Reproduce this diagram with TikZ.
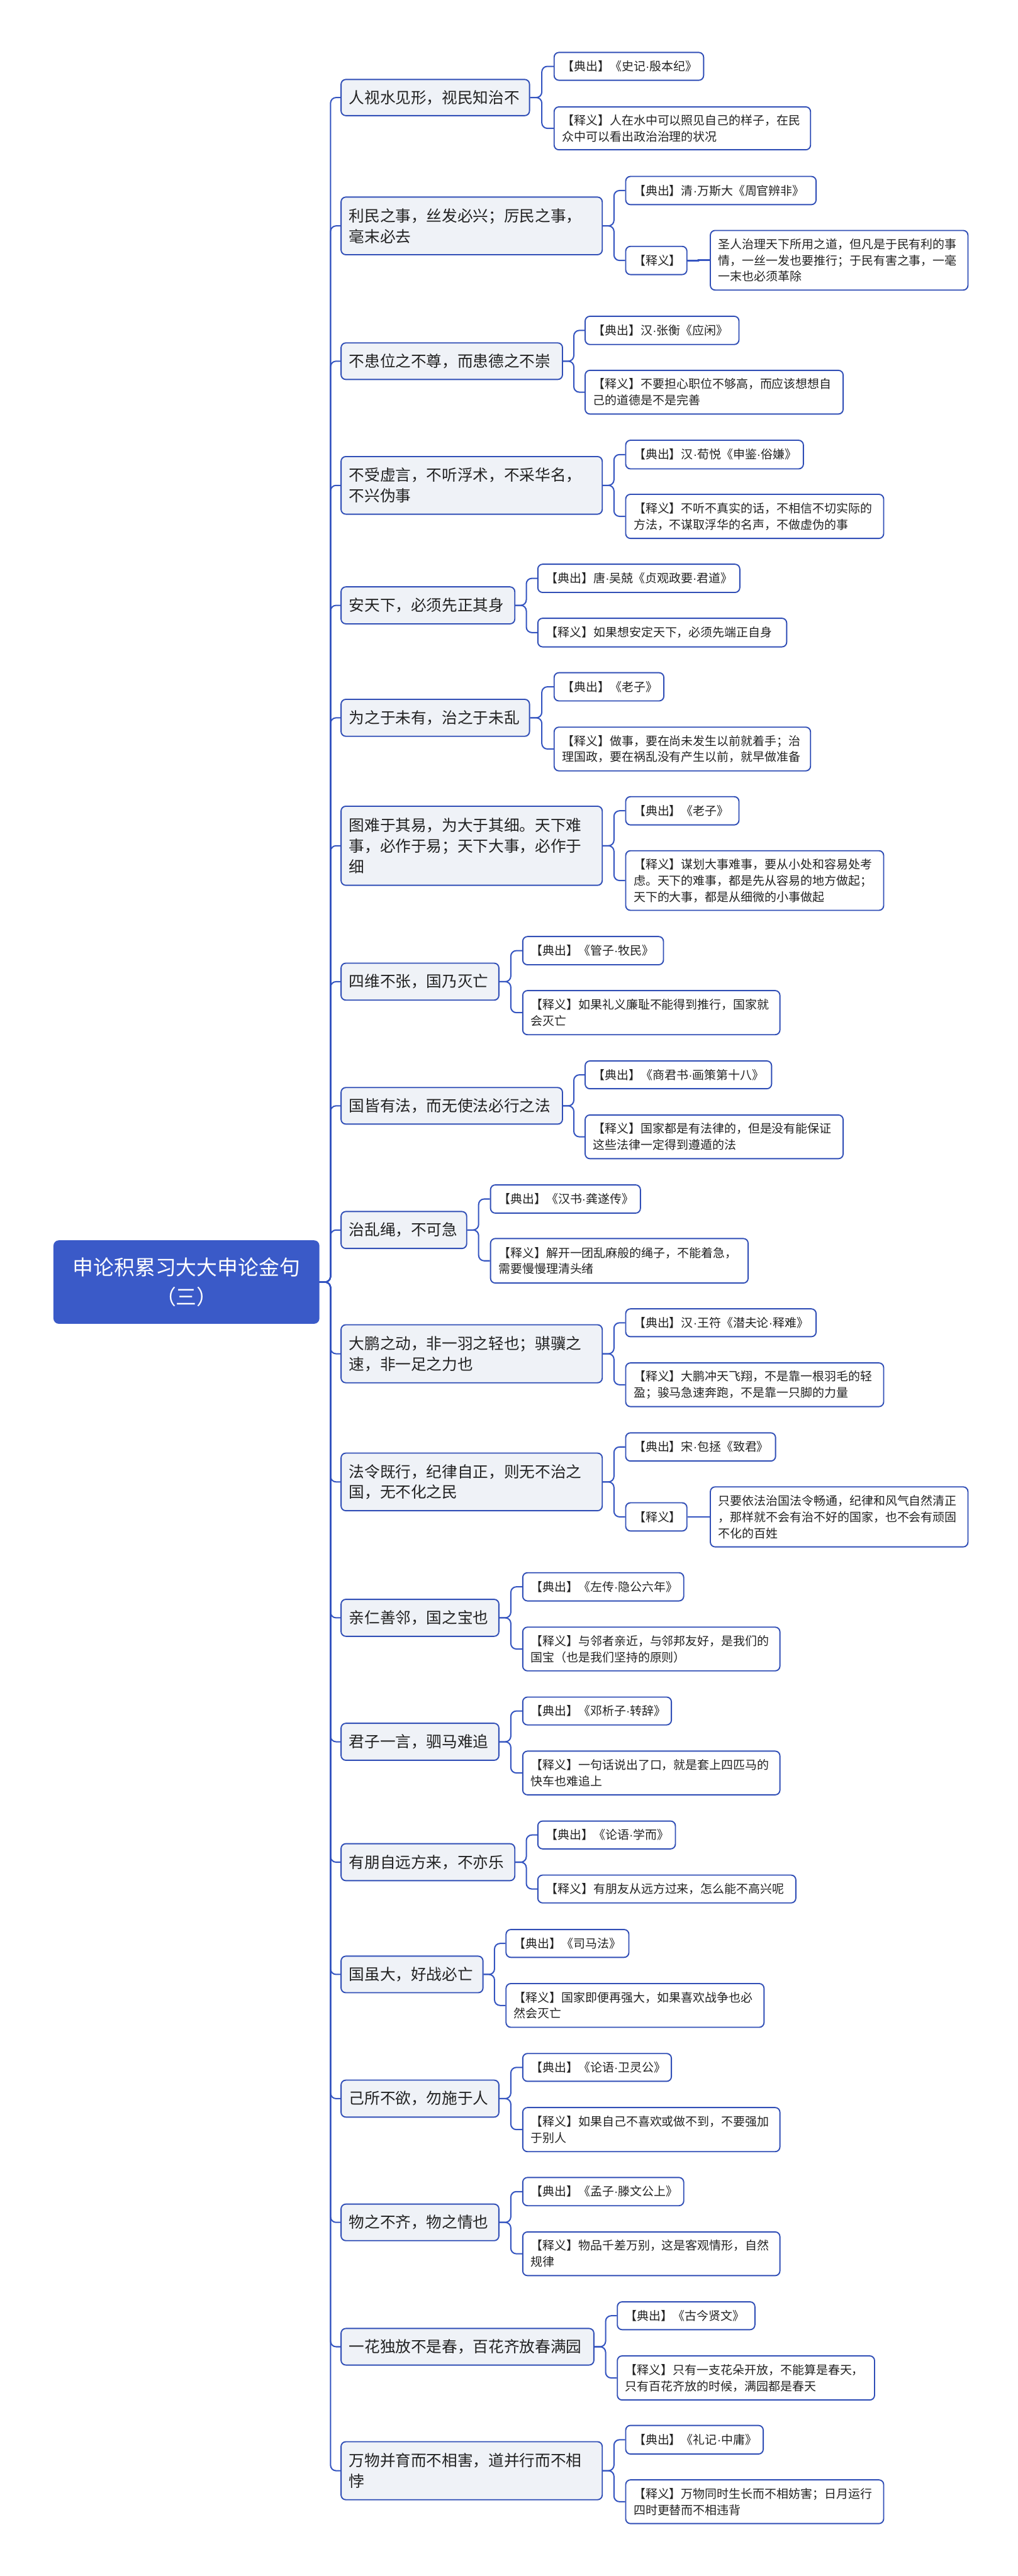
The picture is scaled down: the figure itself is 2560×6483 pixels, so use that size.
\documentclass[tikz,border=0pt]{standalone}
\usepackage{fontspec}
\newfontfamily\cjk{Noto Sans CJK SC}
\newfontfamily\latf{Liberation Sans}
\newcommand\md{{\latf ·}}
\usetikzlibrary{calc}
\definecolor{rootblue}{RGB}{58,90,200}
\definecolor{nodeblue}{RGB}{48,78,182}
\definecolor{connblue}{RGB}{52,84,192}
\definecolor{mainfill}{RGB}{239,242,247}
\definecolor{txt}{RGB}{34,34,34}
\tikzset{
  basebox/.style={draw=nodeblue, line width=1.5pt, rounded corners=6pt, align=left, inner xsep=10pt, inner ysep=0pt, text=txt},
  mainbox/.style={basebox, fill=mainfill, font={\cjk\fontsize{19.5}{26}\selectfont}},
  subbox/.style={basebox, fill=white, font={\cjk\fontsize{15}{20.5}\selectfont}},
  rootbox/.style={basebox, draw=rootblue, fill=rootblue, text=white, align=center, font={\cjk\fontsize{26}{37}\selectfont}},
  conn/.style={draw=connblue, line width=1.6pt, rounded corners=7pt}
}
\newcommand\bnode[7]{%
  \pgfmathsetmacro\bcx{(#3+#5)/2}%
  \pgfmathsetmacro\bcy{(#4+#6)/2}%
  \pgfmathsetmacro\bw{(#5-#3)*0.5}%
  \pgfmathsetmacro\bh{(#6-#4)*0.5}%
  \pgfmathsetmacro\btw{\bw-20}%
  \node[#1, minimum width=\bw pt, minimum height=\bh pt, text width=\btw pt] (#2) at (\bcx,\bcy) {#7};}
\newcommand\kids[3]{% parent, child a, child b
  \draw[conn] (#1.east) -- ($(#1.east)!.5!(#2.west |- #1.east)$) |- (#2.west);
  \draw[conn] (#1.east) -- ($(#1.east)!.5!(#3.west |- #1.east)$) |- (#3.west);}
\begin{document}
\begin{tikzpicture}[x=0.5pt,y=-0.5pt]
\useasboundingbox (0,0) rectangle (2560,6483);
% root
\bnode{rootbox}{root}{136}{3123}{802}{3330}{申论积累习大大申论金句\\（三）}
% main nodes
\bnode{mainbox}{M1}{858}{200}{1332}{291}{人视水见形，视民知治不}
\bnode{mainbox}{M2}{858}{496}{1515}{641}{利民之事，丝发必兴；厉民之事，\\毫末必去}
\bnode{mainbox}{M3}{858}{863}{1415}{955}{不患位之不尊，而患德之不崇}
\bnode{mainbox}{M4}{858}{1149}{1515}{1294}{不受虚言，不听浮术，不采华名，\\不兴伪事}
\bnode{mainbox}{M5}{858}{1477}{1295}{1570}{安天下，必须先正其身}
\bnode{mainbox}{M6}{858}{1760}{1332}{1853}{为之于未有，治之于未乱}
\bnode{mainbox}{M7}{858}{2029}{1515}{2228}{图难于其易，为大于其细。天下难\\事，必作于易；天下大事，必作于\\细}
\bnode{mainbox}{M8}{858}{2424}{1255}{2517}{四维不张，国乃灭亡}
\bnode{mainbox}{M9}{858}{2737}{1415}{2829}{国皆有法，而无使法必行之法}
\bnode{mainbox}{M10}{858}{3049}{1174}{3142}{治乱绳，不可急}
\bnode{mainbox}{M11}{858}{3334}{1515}{3480}{大鹏之动，非一羽之轻也；骐骥之\\速，非一足之力也}
\bnode{mainbox}{M12}{858}{3657}{1515}{3802}{法令既行，纪律自正，则无不治之\\国，无不化之民}
\bnode{mainbox}{M13}{858}{4025}{1255}{4118}{亲仁善邻，国之宝也}
\bnode{mainbox}{M14}{858}{4337}{1255}{4430}{君子一言，驷马难追}
\bnode{mainbox}{M15}{858}{4640}{1295}{4733}{有朋自远方来，不亦乐}
\bnode{mainbox}{M16}{858}{4923}{1215}{5015}{国虽大，好战必亡}
\bnode{mainbox}{M17}{858}{5235}{1255}{5328}{己所不欲，勿施于人}
\bnode{mainbox}{M18}{858}{5547}{1255}{5639}{物之不齐，物之情也}
\bnode{mainbox}{M19}{858}{5860}{1494}{5952}{一花独放不是春，百花齐放春满园}
\bnode{mainbox}{M20}{858}{6145}{1515}{6291}{万物并育而不相害，道并行而不相\\悖}
% children
\bnode{subbox}{M1a}{1394}{132}{1770}{202}{【典出】《史记\md 殷本纪》}
\bnode{subbox}{M1b}{1394}{269}{2039}{377}{【释义】人在水中可以照见自己的样子，在民\\众中可以看出政治治理的状况}
\bnode{subbox}{M2a}{1574}{444}{2053}{515}{【典出】清\md 万斯大《周官辨非》}
\bnode{subbox}{M2b}{1574}{620}{1728}{691}{【释义】}
\bnode{subbox}{M2c}{1787}{580}{2435}{730}{圣人治理天下所用之道，但凡是于民有利的事\\情，一丝一发也要推行；于民有害之事，一毫\\一末也必须革除}
\bnode{subbox}{M3a}{1472}{796}{1859}{867}{【典出】汉\md 张衡《应闲》}
\bnode{subbox}{M3b}{1472}{932}{2121}{1042}{【释义】不要担心职位不够高，而应该想想自\\己的道德是不是完善}
\bnode{subbox}{M4a}{1574}{1108}{2021}{1180}{【典出】汉\md 荀悦《申鉴\md 俗嫌》}
\bnode{subbox}{M4b}{1574}{1244}{2223}{1355}{【释义】不听不真实的话，不相信不切实际的\\方法，不谋取浮华的名声，不做虚伪的事}
\bnode{subbox}{M5a}{1353}{1420}{1861}{1491}{【典出】唐\md 吴兢《贞观政要\md 君道》}
\bnode{subbox}{M5b}{1353}{1556}{1979}{1628}{【释义】如果想安定天下，必须先端正自身}
\bnode{subbox}{M6a}{1394}{1693}{1670}{1764}{【典出】《老子》}
\bnode{subbox}{M6b}{1394}{1830}{2039}{1940}{【释义】做事，要在尚未发生以前就着手；治\\理国政，要在祸乱没有产生以前，就早做准备}
\bnode{subbox}{M7a}{1574}{2005}{1859}{2076}{【典出】《老子》}
\bnode{subbox}{M7b}{1574}{2141}{2223}{2291}{【释义】谋划大事难事，要从小处和容易处考\\虑。天下的难事，都是先从容易的地方做起；\\天下的大事，都是从细微的小事做起}
\bnode{subbox}{M8a}{1315}{2357}{1669}{2428}{【典出】《管子\md 牧民》}
\bnode{subbox}{M8b}{1315}{2493}{1962}{2604}{【释义】如果礼义廉耻不能得到推行，国家就\\会灭亡}
\bnode{subbox}{M9a}{1472}{2670}{1941}{2740}{【典出】《商君书\md 画策第十八》}
\bnode{subbox}{M9b}{1472}{2806}{2121}{2916}{【释义】国家都是有法律的，但是没有能保证\\这些法律一定得到遵遁的法}
\bnode{subbox}{M10a}{1234}{2982}{1611}{3053}{【典出】《汉书\md 龚遂传》}
\bnode{subbox}{M10b}{1234}{3117}{1882}{3229}{【释义】解开一团乱麻般的绳子，不能着急，\\需要慢慢理清头绪}
\bnode{subbox}{M11a}{1574}{3294}{2053}{3364}{【典出】汉\md 王符《潜夫论\md 释难》}
\bnode{subbox}{M11b}{1574}{3430}{2223}{3540}{【释义】大鹏冲天飞翔，不是靠一根羽毛的轻\\盈；骏马急速奔跑，不是靠一只脚的力量}
\bnode{subbox}{M12a}{1574}{3606}{1951}{3677}{【典出】宋\md 包拯《致君》}
\bnode{subbox}{M12b}{1574}{3782}{1728}{3853}{【释义】}
\bnode{subbox}{M12c}{1787}{3742}{2435}{3893}{只要依法治国法令畅通，纪律和风气自然清正\\，那样就不会有治不好的国家，也不会有顽固\\不化的百姓}
\bnode{subbox}{M13a}{1315}{3958}{1720}{4029}{【典出】《左传\md 隐公六年》}
\bnode{subbox}{M13b}{1315}{4095}{1962}{4205}{【释义】与邻者亲近，与邻邦友好，是我们的\\国宝（也是我们坚持的原则）}
\bnode{subbox}{M14a}{1315}{4271}{1689}{4341}{【典出】《邓析子\md 转辞》}
\bnode{subbox}{M14b}{1315}{4407}{1962}{4517}{【释义】一句话说出了口，就是套上四匹马的\\快车也难追上}
\bnode{subbox}{M15a}{1353}{4583}{1699}{4653}{【典出】《论语\md 学而》}
\bnode{subbox}{M15b}{1353}{4719}{2002}{4789}{【释义】有朋友从远方过来，怎么能不高兴呢}
\bnode{subbox}{M16a}{1273}{4856}{1582}{4926}{【典出】《司马法》}
\bnode{subbox}{M16b}{1273}{4992}{1922}{5102}{【释义】国家即便再强大，如果喜欢战争也必\\然会灭亡}
\bnode{subbox}{M17a}{1315}{5168}{1689}{5238}{【典出】《论语\md 卫灵公》}
\bnode{subbox}{M17b}{1315}{5304}{1962}{5415}{【释义】如果自己不喜欢或做不到，不要强加\\于别人}
\bnode{subbox}{M18a}{1315}{5480}{1720}{5551}{【典出】《孟子\md 滕文公上》}
\bnode{subbox}{M18b}{1315}{5617}{1962}{5727}{【释义】物品千差万别，这是客观情形，自然\\规律}
\bnode{subbox}{M19a}{1553}{5793}{1899}{5863}{【典出】《古今贤文》}
\bnode{subbox}{M19b}{1553}{5929}{2200}{6040}{【释义】只有一支花朵开放，不能算是春天，\\只有百花齐放的时候，满园都是春天}
\bnode{subbox}{M20a}{1574}{6104}{1920}{6176}{【典出】《礼记\md 中庸》}
\bnode{subbox}{M20b}{1574}{6241}{2223}{6351}{【释义】万物同时生长而不相妨害；日月运行\\四时更替而不相违背}
% spine from root to main nodes
\foreach \m in {M1,M2,M3,M4,M5,M6,M7,M8,M9,M10,M11,M12,M13,M14,M15,M16,M17,M18,M19,M20}
  \draw[conn] (root.east) -- ++(28,0) |- (\m.west);
% children connectors
\foreach \m in {M1,M2,M3,M4,M5,M6,M7,M8,M9,M10,M11,M12,M13,M14,M15,M16,M17,M18,M19,M20}
  \kids{\m}{\m a}{\m b}
\draw[conn] (M2b.east) -- (M2c.west);
\draw[conn] (M12b.east) -- (M12c.west);
\end{tikzpicture}
\end{document}
